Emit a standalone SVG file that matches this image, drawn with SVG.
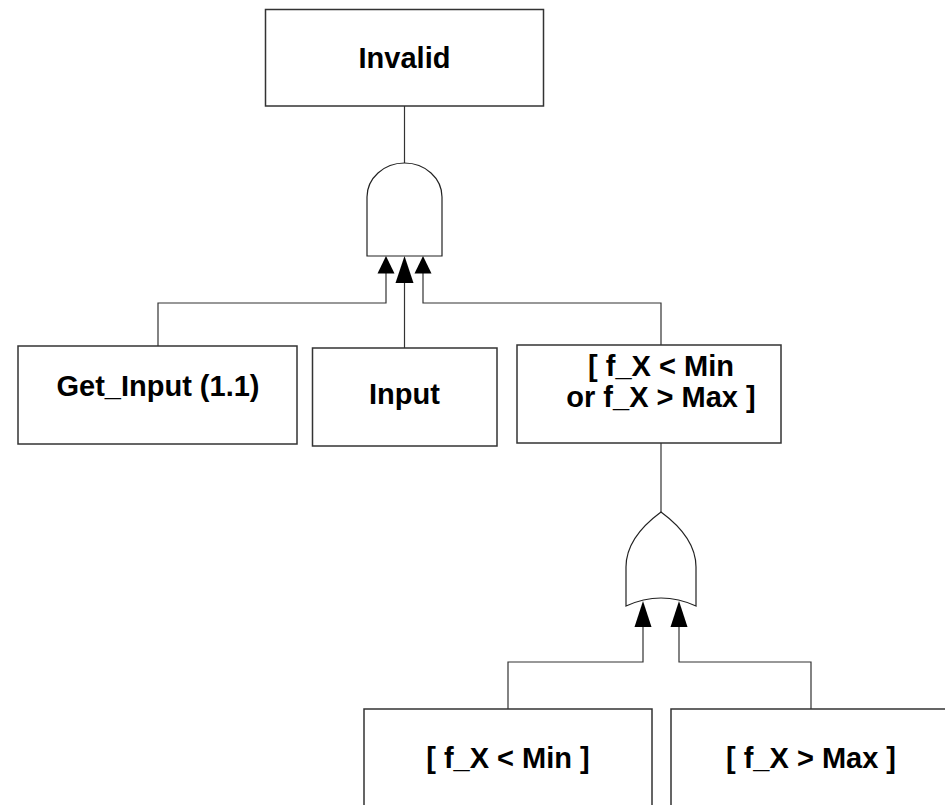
<svg xmlns="http://www.w3.org/2000/svg" width="945" height="805" viewBox="0 0 945 805">
  <style>
    .box { fill: #ffffff; stroke: #333333; stroke-width: 1.5; }
    .gate { fill: #ffffff; stroke: #222222; stroke-width: 1.2; }
    .wire { fill: none; stroke: #333333; stroke-width: 1.2; }
    .head { fill: #000000; stroke: none; }
    .label { font-family: "Liberation Sans", Arial, Helvetica, sans-serif; font-weight: bold; font-size: 29px; fill: #000000; text-anchor: middle; }
  </style>
  <rect width="945" height="805" fill="#ffffff"/>

  <g id="connectors">
    <path class="wire" d="M404.5,106 V163"/>
    <path class="wire" d="M158,346 V303 H386 V273"/>
    <path class="wire" d="M404.5,348 V282"/>
    <path class="wire" d="M661,345 V303 H423 V273"/>
    <path class="wire" d="M661,443 V512"/>
    <path class="wire" d="M508,709 V662 H643 V626"/>
    <path class="wire" d="M811,709 V662 H679 V626"/>
    <path class="head" d="M386,256 L377.5,273.5 L394.5,273.5 Z"/>
    <path class="head" d="M404.5,256 L395.5,283 L413.5,283 Z"/>
    <path class="head" d="M423,256 L414.5,273.5 L431.5,273.5 Z"/>
    <path class="head" d="M643,601 L634.5,627 L651.5,627 Z"/>
    <path class="head" d="M679,601 L670.5,627 L687.5,627 Z"/>
  </g>

  <g id="invalid">
    <rect class="box" x="265.5" y="9.5" width="278" height="96.5"/>
    <text class="label" x="404.5" y="68">Invalid</text>
  </g>

  <g id="and-gate">
    <path class="gate" d="M367,256 V197 A37.5,34 0 0 1 442,197 V256 Z"/>
  </g>

  <g id="get-input">
    <rect class="box" x="18" y="346" width="279" height="98"/>
    <text class="label" x="158" y="396">Get_Input (1.1)</text>
  </g>

  <g id="input">
    <rect class="box" x="312.5" y="348" width="184.5" height="98"/>
    <text class="label" x="404.5" y="404">Input</text>
  </g>

  <g id="range-check">
    <rect class="box" x="517" y="345" width="264" height="98"/>
    <text class="label" x="661" y="376">[ f_X &lt; Min</text>
    <text class="label" x="661" y="407">or f_X &gt; Max ]</text>
  </g>

  <g id="or-gate">
    <path class="gate" d="M626,606 V567 C626,545 642,526 661,512 C680,526 696,545 696,567 V606 Q661,590 626,606 Z"/>
  </g>

  <g id="below-min">
    <rect class="box" x="364" y="709" width="288" height="110"/>
    <text class="label" x="508" y="768">[ f_X &lt; Min ]</text>
  </g>

  <g id="above-max">
    <rect class="box" x="671" y="709" width="290" height="110"/>
    <text class="label" x="811" y="768">[ f_X &gt; Max ]</text>
  </g>
</svg>
